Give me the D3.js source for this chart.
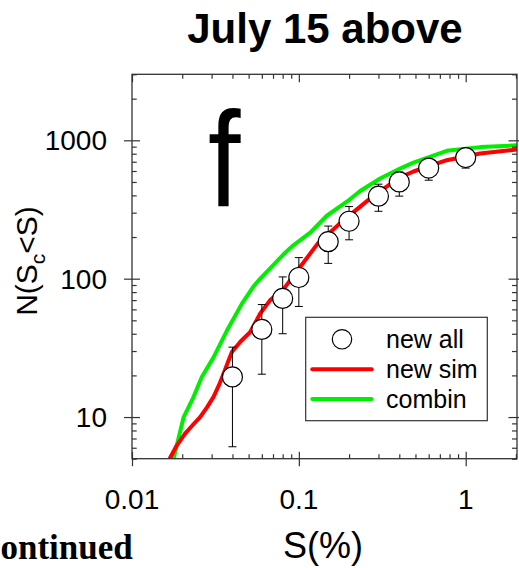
<!DOCTYPE html>
<html>
<head>
<meta charset="utf-8">
<script src="https://cdn.jsdelivr.net/npm/d3@7/dist/d3.min.js"></script>
<style>
  html, body { margin: 0; padding: 0; background: #fff; }
  svg { display: block; }
  text { font-family: "Liberation Sans", Arial, Helvetica, sans-serif; fill: #000; }
</style>
</head>
<body>
<svg id="chart" width="519" height="568"></svg>
<script>
// Observed cumulative counts with error ranges
const obsS  = [0.04, 0.06, 0.08, 0.1, 0.15, 0.2, 0.3, 0.4, 0.6, 1];
const obsN  = [19.5, 43, 72, 102, 185, 260, 395, 500, 630, 750];
const obsLo = [6.1, 20.4, 40, 63, 129, 191, 307, 395, 515, 630];
const obsHi = [32, 65, 103, 142, 240, 332, 482, 590, 720, 870];

// "new sim" curve
const simS = [0.0168, 0.0185, 0.0208, 0.0232, 0.0256, 0.0282, 0.0308, 0.0332, 0.0354, 0.0376,
              0.0397, 0.0446, 0.051, 0.0587, 0.0673, 0.081, 0.102, 0.13, 0.185, 0.267,
              0.307, 0.404, 0.486, 0.77, 1.22, 2.04];
const simN = [5, 6.2, 7.6, 8.8, 10, 11.8, 14, 17, 20.6, 25,
              29.5, 35, 41, 56, 70, 84, 122, 180, 264, 379,
              430, 540, 595, 718, 803, 858];

// "combin" curve
const combS = [0.01775, 0.0195, 0.0204, 0.0234, 0.0262, 0.0308, 0.037, 0.0456, 0.0535, 0.0587,
               0.07, 0.081, 0.093, 0.117, 0.147, 0.194, 0.233, 0.307, 0.404, 0.486,
               0.77, 1.22, 2.04];
const combN = [5, 8, 10, 14, 19.5, 27, 42, 66, 88, 100,
               125, 150, 175, 215, 285, 360, 430, 530, 625, 690,
               840, 893, 920];

const xTickVals = [0.01, 0.1, 1];
const xTickLabels = ["0.01", "0.1", "1"];
const yTickVals = [10, 100, 1000];
const yTickLabels = ["10", "100", "1000"];

const legendLabels = ["new all", "new sim", "combin"];
const titleText = "July 15 above";
const panelLetter = "f";

const svg = d3.select("#chart");
const L = 132, R = 517, T = 74.3, B = 458.7;

const x = d3.scaleLog().domain([0.01, 2.03]).range([L, R]);
const y = d3.scaleLog().domain([5, 3000]).range([B, T]);

const axisColor = "#333";

// minor tick values
const xMinor = [];
[0.01, 0.1, 1].forEach(d => { for (let k = 2; k <= 9; k++) { const v = d * k; if (v <= 2.03) xMinor.push(v); } });
const yMinor = [];
[1, 10, 100, 1000].forEach(d => { for (let k = 2; k <= 9; k++) { const v = d * k; if (v >= 5 && v <= 3000) yMinor.push(v); } });

const clipId = "plotclip";
svg.append("defs").append("clipPath").attr("id", clipId)
  .append("rect").attr("x", L).attr("y", T).attr("width", R - L).attr("height", B - T);

// Title
svg.append("text").attr("x", 325).attr("y", 43.3).attr("text-anchor", "middle")
  .style("font-size", "42px").style("font-weight", "bold").text(titleText);

// Panel letter
svg.append("text").attr("x", 208).attr("y", 206)
  .attr("transform", "translate(208,206) scale(0.86,1) translate(-208,-206)")
  .style("font-size", "136px").text(panelLetter);

// Curves
const line = d3.line().x(d => x(d[0])).y(d => y(d[1]));
const plot = svg.append("g").attr("clip-path", `url(#${clipId})`);
plot.append("path").datum(d3.zip(combS, combN)).attr("d", line)
  .attr("fill", "none").attr("stroke", "#00ee00").attr("stroke-width", 4).attr("stroke-linejoin", "round");
plot.append("path").datum(d3.zip(simS, simN)).attr("d", line)
  .attr("fill", "none").attr("stroke", "#ff0000").attr("stroke-width", 4).attr("stroke-linejoin", "round");

// Error bars
const obs = obsS.map((s, i) => ({ s, n: obsN[i], lo: obsLo[i], hi: obsHi[i] }));
const eb = svg.append("g").attr("stroke", "#000").attr("stroke-width", 1);
obs.forEach(d => {
  const cx = x(d.s);
  eb.append("line").attr("x1", cx).attr("x2", cx).attr("y1", y(d.lo)).attr("y2", y(d.hi));
  eb.append("line").attr("x1", cx - 4).attr("x2", cx + 4).attr("y1", y(d.lo)).attr("y2", y(d.lo));
  eb.append("line").attr("x1", cx - 4).attr("x2", cx + 4).attr("y1", y(d.hi)).attr("y2", y(d.hi));
});
svg.append("g").selectAll("circle").data(obs).join("circle")
  .attr("cx", d => x(d.s)).attr("cy", d => y(d.n)).attr("r", 10)
  .attr("fill", "#fff").attr("stroke", "#000").attr("stroke-width", 1.2);

// Axes (frame with ticks on all four sides)
const ax = svg.append("g");
ax.append("g").attr("transform", `translate(0,${B})`)
  .call(d3.axisBottom(x).tickValues(xTickVals).tickFormat("").tickSizeInner(-7).tickSizeOuter(0))
  .call(g => g.selectAll(".tick line").attr("y1", 7.5));
ax.append("g").attr("transform", `translate(0,${B})`)
  .call(d3.axisBottom(x).tickValues(xMinor).tickFormat("").tickSizeInner(-4.5).tickSizeOuter(0));
ax.append("g").attr("transform", `translate(0,${T})`)
  .call(d3.axisTop(x).tickValues(xTickVals).tickFormat("").tickSizeInner(-8).tickSizeOuter(0));
ax.append("g").attr("transform", `translate(0,${T})`)
  .call(d3.axisTop(x).tickValues(xMinor).tickFormat("").tickSizeInner(-4.5).tickSizeOuter(0));
ax.append("g").attr("transform", `translate(${L},0)`)
  .call(d3.axisLeft(y).tickValues(yTickVals).tickFormat("").tickSizeInner(-8).tickSizeOuter(0))
  .call(g => g.selectAll(".tick line").attr("x1", -8));
ax.append("g").attr("transform", `translate(${L},0)`)
  .call(d3.axisLeft(y).tickValues(yMinor).tickFormat("").tickSizeInner(-4.7).tickSizeOuter(0));
ax.append("g").attr("transform", `translate(${R},0)`)
  .call(d3.axisRight(y).tickValues(yTickVals).tickFormat("").tickSizeInner(-8.5).tickSizeOuter(0))
  .call(g => g.selectAll(".tick line").attr("x1", 8));
ax.append("g").attr("transform", `translate(${R},0)`)
  .call(d3.axisRight(y).tickValues(yMinor).tickFormat("").tickSizeInner(-5).tickSizeOuter(0));
ax.selectAll("path.domain").remove();
ax.selectAll(".tick line").attr("stroke", axisColor).attr("stroke-width", 1.2);
ax.append("rect").attr("x", L).attr("y", T).attr("width", R - L).attr("height", B - T)
  .attr("fill", "none").attr("stroke", axisColor).attr("stroke-width", 1.3);

// Tick labels
svg.append("g").selectAll("text").data(xTickVals).join("text")
  .attr("x", d => x(d)).attr("y", 509).attr("text-anchor", "middle")
  .style("font-size", "28px").text((d, i) => xTickLabels[i]);
svg.append("g").selectAll("text").data(yTickVals).join("text")
  .attr("x", 107).attr("y", d => y(d)).attr("dy", "0.36em").attr("text-anchor", "end")
  .style("font-size", "28px").text((d, i) => yTickLabels[i]);

// Axis titles
svg.append("text").attr("x", 323).attr("y", 558).attr("text-anchor", "middle")
  .style("font-size", "36px").text("S(%)");
const yt = svg.append("text").attr("transform", "translate(37,261) rotate(-90)")
  .attr("text-anchor", "middle").style("font-size", "30px");
yt.append("tspan").text("N(S");
yt.append("tspan").attr("dy", 8).style("font-size", "21px").text("c");
yt.append("tspan").attr("dy", -8).text("<S)");

// Caption fragment at the lower-left edge
svg.append("text").attr("x", 0.5).attr("y", 559).attr("text-anchor", "start")
  .style("font-family", "'Liberation Serif', 'Times New Roman', serif")
  .style("font-weight", "bold").style("font-size", "35px").text("ontinued");

// Legend
const lg = svg.append("g");
lg.append("rect").attr("x", 305.7).attr("y", 317.3).attr("width", 181.6).attr("height", 103.4)
  .attr("fill", "#fff").attr("stroke", "#333").attr("stroke-width", 1.2);
lg.append("circle").attr("cx", 342).attr("cy", 339.3).attr("r", 9.7)
  .attr("fill", "#fff").attr("stroke", "#000").attr("stroke-width", 1.2);
lg.append("line").attr("x1", 312.3).attr("x2", 371.7).attr("y1", 369.3).attr("y2", 369.3)
  .attr("stroke", "#ff0000").attr("stroke-width", 4).attr("stroke-linecap", "round");
lg.append("line").attr("x1", 312.3).attr("x2", 371.7).attr("y1", 399).attr("y2", 399)
  .attr("stroke", "#00ee00").attr("stroke-width", 4).attr("stroke-linecap", "round");
lg.selectAll("text.lab").data(legendLabels).join("text").attr("class", "lab")
  .attr("x", 386).attr("y", (d, i) => 347.7 + i * 30)
  .style("font-size", "25px").text(d => d);
</script>
